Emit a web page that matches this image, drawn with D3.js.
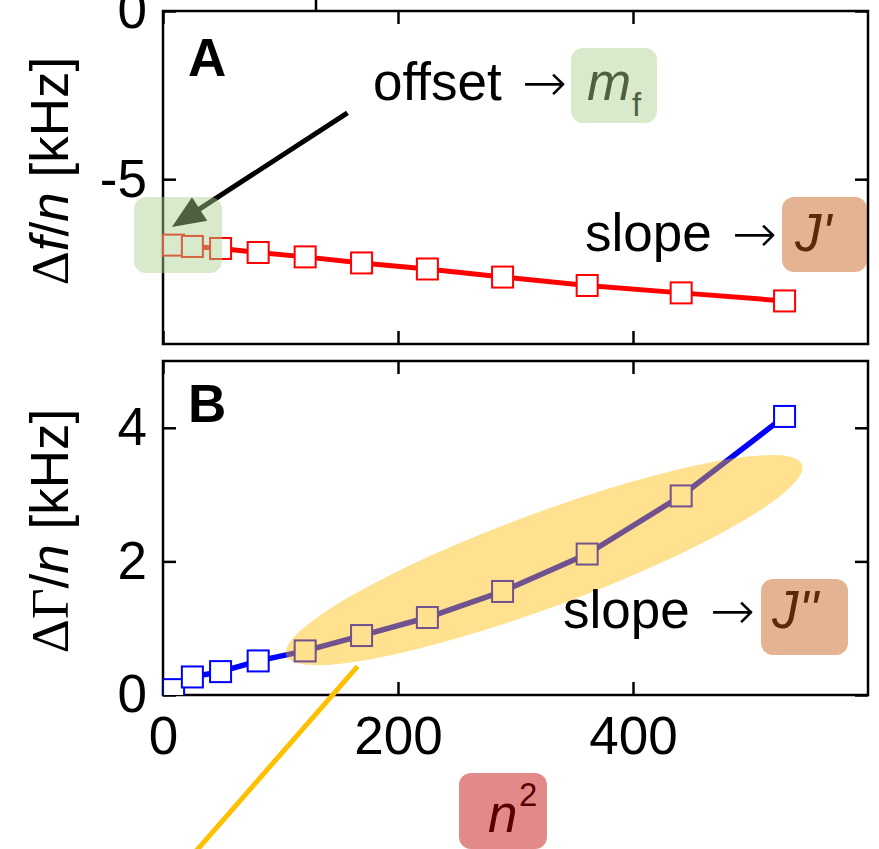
<!DOCTYPE html>
<html>
<head>
<meta charset="utf-8">
<script src="https://cdn.jsdelivr.net/npm/d3@7"></script>
<style>
  html, body { margin: 0; padding: 0; background: #fff; }
  svg { display: block; }
  text { font-family: "Liberation Sans", Arial, sans-serif; }
</style>
</head>
<body>
<svg id="chart" width="879" height="849"></svg>
<script>
// ---------------- data ----------------
const nSquared   = [9, 25, 49, 81, 121, 169, 225, 289, 361, 441, 529];
const dfPerN     = [-6.96, -7.00, -7.06, -7.18, -7.31, -7.49, -7.67, -7.91, -8.16, -8.38, -8.62];
const dGammaPerN = [0.08, 0.27, 0.35, 0.51, 0.66, 0.89, 1.16, 1.55, 2.11, 2.98, 4.17];
const xTicks  = [0, 200, 400];
const yTicksA = [-5, 0];
const yTicksB = [0, 2, 4];

// ---------------- layout ----------------
const W = 879, H = 849;
const L = 163, R = 868;
const A = { top: 11, bottom: 344 };
const B = { top: 361, bottom: 695 };
const FS = 53;
const TICK = 13;

const svg = d3.select("#chart");

const x = d3.scaleLinear().domain([0, 600]).range([L, R]);
const yA = d3.scaleLinear().domain([-9.9, 0]).range([A.bottom, A.top]);
const yB = d3.scaleLinear().domain([0, 5]).range([B.bottom, B.top]);

function axes(g, y, panel, yTicks, showX) {
  const bottom = g.append("g").attr("transform", `translate(0,${panel.bottom})`)
    .call(d3.axisBottom(x).tickValues(xTicks).tickSizeInner(-TICK).tickSizeOuter(0).tickPadding(21)
      .tickFormat(showX ? (d => String(d)) : () => ""));
  const top = g.append("g").attr("transform", `translate(0,${panel.top})`)
    .call(d3.axisTop(x).tickValues(xTicks).tickSizeInner(-TICK).tickSizeOuter(0).tickFormat(() => ""));
  const left = g.append("g").attr("transform", `translate(${L},0)`)
    .call(d3.axisLeft(y).tickValues(yTicks).tickSizeInner(-TICK).tickSizeOuter(0).tickPadding(16)
      .tickFormat(d => String(d)));
  const right = g.append("g").attr("transform", `translate(${R},0)`)
    .call(d3.axisRight(y).tickValues(yTicks).tickSizeInner(-TICK).tickSizeOuter(0).tickFormat(() => ""));
  [bottom, top, left, right].forEach(a => {
    a.select(".domain").remove();
    a.selectAll("line").attr("stroke", "#000").attr("stroke-width", 2.5);
    a.selectAll("text").attr("fill", "#000").style("font-size", FS + "px")
      .style("font-family", '"Liberation Sans", Arial, sans-serif');
  });
  g.append("rect").attr("x", L).attr("y", panel.top)
    .attr("width", R - L).attr("height", panel.bottom - panel.top)
    .attr("fill", "none").attr("stroke", "#000").attr("stroke-width", 2.5);
}

function yLabel(cy, greek) {
  const t = svg.append("text").attr("transform", `translate(68,${cy}) rotate(-90)`)
    .attr("text-anchor", "middle").style("font-size", FS + "px").attr("fill", "#000");
  t.append("tspan").style("font-family", '"Liberation Serif", serif').text(greek);
  if (greek === "Δ") t.append("tspan").style("font-style", "italic").text("f");
  t.append("tspan").text("/");
  t.append("tspan").style("font-style", "italic").text("n");
  t.append("tspan").text("\u00a0[kHz]");
}

function arrowText(x0, y0) {
  svg.append("text").attr("x", x0).attr("y", y0).style("font-size", FS + "px")
    .style("font-family", '"DejaVu Sans", sans-serif').style("font-weight", "200")
    .attr("textLength", 45).attr("lengthAdjust", "spacingAndGlyphs").text("→");
}

const SQ = 21;
// ================= Panel A =================
const gA = svg.append("g");
axes(gA, yA, A, yTicksA, false);

const ptsA = nSquared.map((v, i) => [v, dfPerN[i]]);
gA.append("path").datum(ptsA)
  .attr("d", d3.line().x(d => x(d[0])).y(d => yA(d[1])))
  .attr("fill", "none").attr("stroke", "#ff0000").attr("stroke-width", 5);
gA.selectAll("rect.mk").data(ptsA).join("rect").attr("class", "mk")
  .attr("x", d => x(d[0]) - SQ / 2).attr("y", d => yA(d[1]) - SQ / 2)
  .attr("width", SQ).attr("height", SQ)
  .attr("fill", "#fff").attr("stroke", "#ff0000").attr("stroke-width", 2);

svg.append("text").attr("x", 188).attr("y", 76).style("font-size", FS + "px")
  .style("font-weight", "bold").text("A");

// arrow towards offset
const arrStart = [x(157), yA(-3.03)], arrTip = [x(7.6), yA(-6.42)];
{
  const dx = arrTip[0] - arrStart[0], dy = arrTip[1] - arrStart[1];
  const len = Math.hypot(dx, dy), ux = dx / len, uy = dy / len;
  const hl = 33, hw = 14;
  const bx = arrTip[0] - hl * ux, by = arrTip[1] - hl * uy;
  gA.append("line").attr("x1", arrStart[0]).attr("y1", arrStart[1])
    .attr("x2", bx + 4 * ux).attr("y2", by + 4 * uy)
    .attr("stroke", "#000").attr("stroke-width", 5);
  gA.append("path")
    .attr("d", `M${arrTip[0]},${arrTip[1]} L${bx - hw * uy},${by + hw * ux} L${bx + hw * uy},${by - hw * ux} Z`)
    .attr("fill", "#000");
}

// offset -> m_f
svg.append("text").attr("x", 373).attr("y", 100).style("font-size", FS + "px").text("offset");
arrowText(522, 101);
svg.append("text").attr("x", 587).attr("y", 100).style("font-size", FS + "px")
  .style("font-style", "italic").text("m");
svg.append("text").attr("x", 632).attr("y", 116).style("font-size", "33px").text("f");

// slope -> J'
svg.append("text").attr("x", 585).attr("y", 251).style("font-size", FS + "px").text("slope");
arrowText(732, 252);
svg.append("text").attr("x", 795).attr("y", 251).style("font-size", FS + "px")
  .style("font-style", "italic").text("J'");

yLabel(171, "Δ");

function box(x0, y0, x1, y1, color, op) {
  svg.append("rect").attr("x", x0).attr("y", y0).attr("width", x1 - x0).attr("height", y1 - y0)
    .attr("rx", 12).attr("ry", 12).attr("fill", color).attr("fill-opacity", op);
}
box(134, 197, 222, 273, "#a9d18e", 0.46);
box(571, 48, 657, 123, "#a9d18e", 0.46);
box(782, 197, 867, 272, "#c55a11", 0.46);

// ================= Panel B =================
const gB = svg.append("g");
axes(gB, yB, B, yTicksB, true);

svg.append("clipPath").attr("id", "clipB").append("rect")
  .attr("x", L).attr("y", B.top).attr("width", R - L).attr("height", B.bottom - B.top);
const gBd = gB.append("g").attr("clip-path", "url(#clipB)");
const ptsB = nSquared.map((v, i) => [v, dGammaPerN[i]]);
gBd.append("path").datum(ptsB)
  .attr("d", d3.line().x(d => x(d[0])).y(d => yB(d[1])))
  .attr("fill", "none").attr("stroke", "#0000ff").attr("stroke-width", 5.5);
gBd.selectAll("rect.mk").data(ptsB).join("rect").attr("class", "mk")
  .attr("x", d => x(d[0]) - SQ / 2).attr("y", d => yB(d[1]) - SQ / 2)
  .attr("width", SQ).attr("height", SQ)
  .attr("fill", "#fff").attr("stroke", "#0000ff").attr("stroke-width", 2);

const ell = { cx: 324.4, cy: 2.02, rx: 275, ry: 47, angle: -20.3 };
gB.append("ellipse")
  .attr("transform", `translate(${x(ell.cx)},${yB(ell.cy)}) rotate(${ell.angle})`)
  .attr("rx", ell.rx).attr("ry", ell.ry)
  .attr("fill", "#ffbb00").attr("fill-opacity", 0.44);

svg.append("text").attr("x", 188).attr("y", 422).style("font-size", FS + "px")
  .style("font-weight", "bold").text("B");

svg.append("text").attr("x", 563).attr("y", 628).style("font-size", FS + "px").text("slope");
arrowText(710, 629);
svg.append("text").attr("x", 772).attr("y", 628).style("font-size", FS + "px")
  .style("font-style", "italic").text("J''");

yLabel(531, "ΔΓ");

svg.append("line").attr("x1", x(165.6)).attr("y1", yB(0.43))
  .attr("x2", x(25)).attr("y2", yB(-2.4))
  .attr("stroke", "#ffc000").attr("stroke-width", 5);

svg.append("text").attr("x", 488).attr("y", 832).style("font-size", FS + "px")
  .style("font-style", "italic").text("n");
svg.append("text").attr("x", 519).attr("y", 806).style("font-size", "33px").text("2");

box(761, 579, 848, 655, "#c55a11", 0.46);
box(459, 773, 547, 849, "#c00000", 0.46);

svg.append("line").attr("x1", 316).attr("y1", 0).attr("x2", 316).attr("y2", 10)
  .attr("stroke", "#000").attr("stroke-width", 2.5);
</script>
</body>
</html>
